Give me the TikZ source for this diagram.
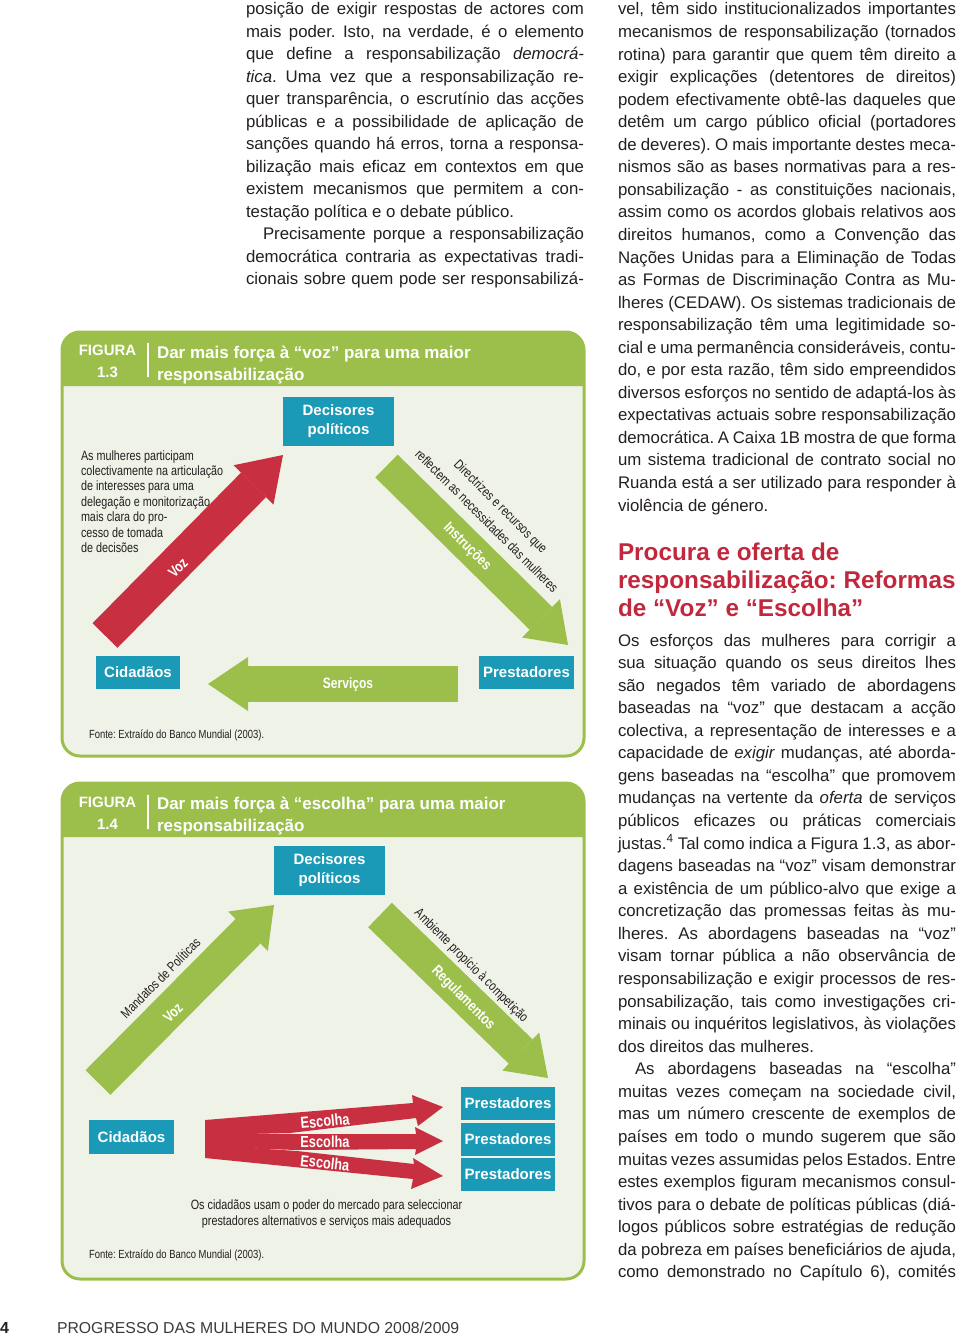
\documentclass[tikz,border=0pt]{standalone}
\usepackage{fontspec}
\setmainfont{Liberation Sans}
\newfontfamily\cond[FakeStretch=0.8]{Liberation Sans}
\usetikzlibrary{arrows.meta}
\definecolor{figgreen}{HTML}{9CBF4B}
\definecolor{figbg}{HTML}{EFF2E6}
\definecolor{tealc}{HTML}{1B9AB7}
\definecolor{arrred}{HTML}{C82F40}
\definecolor{headred}{HTML}{C2283D}
\definecolor{bodytxt}{HTML}{231F20}
\definecolor{foot}{HTML}{3A3A3A}
\frenchspacing
\newcommand\jl[1]{\noindent\makebox[\linewidth][s]{#1}\par}
\newcommand\lastl[1]{\noindent #1\par}
\tikzset{
  txt/.style={anchor=base west, inner sep=0pt, outer sep=0pt},
  bodytext/.style={txt, text=bodytxt},
  tealbox/.style={fill=tealc, text=white, inner sep=0pt, align=center,
    font=\fontsize{15}{19}\selectfont\bfseries},
  whitelab/.style={text=white, inner sep=0pt, font=\cond\fontsize{15}{18}\selectfont\bfseries},
  blacklab/.style={text=bodytxt, inner sep=0pt, font=\cond\fontsize{13.5}{15}\selectfont},
  figtitle/.style={txt, text=white, font=\fontsize{17}{22}\selectfont\bfseries},
  fignum/.style={anchor=base, inner sep=0pt, text=white, font=\fontsize{15}{22}\selectfont\bfseries},
  blockarr/.style n args={4}{draw=#1, line width=#2, -{Triangle[length=#3, width=#4, line width=0pt]}},
  redshape/.style={fill=arrred},
}
\begin{document}
\frenchspacing
\begin{tikzpicture}[x=1pt, y=-1pt]
\useasboundingbox (0,0) rectangle (960,1335);

% ---------------- column 2 text ----------------
\node[bodytext] (col2) at (246,15) {\begin{minipage}[t]{338pt}\fontsize{16.8}{22.5}\selectfont\frenchspacing
\jl{posição de exigir respostas de actores com}
\jl{mais poder. Isto, na verdade, é o elemento}
\jl{que define a responsabilização \textit{democrá-}}
\jl{\textit{tica}. Uma vez que a responsabilização re-}
\jl{quer transparência, o escrutínio das acções}
\jl{públicas e a possibilidade de aplicação de}
\jl{sanções quando há erros, torna a responsa-}
\jl{bilização mais eficaz em contextos em que}
\jl{existem mecanismos que permitem a con-}
\lastl{testação política e o debate público.}
\jl{\hspace*{17pt}Precisamente porque a responsabilização}
\jl{democrática contraria as expectativas tradi-}
\jl{cionais sobre quem pode ser responsabilizá-}
\end{minipage}};

% ---------------- column 3 text ----------------
\node[bodytext] (col3a) at (618,15) {\begin{minipage}[t]{338pt}\fontsize{16.8}{22.55}\selectfont\frenchspacing
\jl{vel, têm sido institucionalizados importantes}
\jl{mecanismos de responsabilização (tornados}
\jl{rotina) para garantir que quem têm direito a}
\jl{exigir explicações (detentores de direitos)}
\jl{podem efectivamente obtê-las daqueles que}
\jl{detêm um cargo público oficial (portadores}
\jl{de deveres). O mais importante destes meca-}
\jl{nismos são as bases normativas para a res-}
\jl{ponsabilização - as constituições nacionais,}
\jl{assim como os acordos globais relativos aos}
\jl{direitos humanos, como a Convenção das}
\jl{Nações Unidas para a Eliminação de Todas}
\jl{as Formas de Discriminação Contra as Mu-}
\jl{lheres (CEDAW). Os sistemas tradicionais de}
\jl{responsabilização têm uma legitimidade so-}
\jl{cial e uma permanência consideráveis, contu-}
\jl{do, e por esta razão, têm sido empreendidos}
\jl{diversos esforços no sentido de adaptá-los às}
\jl{expectativas actuais sobre responsabilização}
\jl{democrática. A Caixa 1B mostra de que forma}
\jl{um sistema tradicional de contrato social no}
\jl{Ruanda está a ser utilizado para responder à}
\lastl{violência de género.}
\end{minipage}};

\node[txt, text=headred] (head) at (618,560) {\begin{minipage}[t]{345pt}\fontsize{24.3}{28}\selectfont\bfseries
\lastl{Procura e oferta de}
\lastl{responsabilização: Reformas}
\lastl{de “Voz” e “Escolha”}
\end{minipage}};

\node[bodytext] (col3b) at (618,646) {\begin{minipage}[t]{338pt}\fontsize{16.8}{22.57}\selectfont\frenchspacing
\jl{Os esforços das mulheres para corrigir a}
\jl{sua situação quando os seus direitos lhes}
\jl{são negados têm variado de abordagens}
\jl{baseadas na “voz” que destacam a acção}
\jl{colectiva, a representação de interesses e a}
\jl{capacidade de \textit{exigir} mudanças, até aborda-}
\jl{gens baseadas na “escolha” que promovem}
\jl{mudanças na vertente da \textit{oferta} de serviços}
\jl{públicos eficazes ou práticas comerciais}
\jl{justas.\textsuperscript{4} Tal como indica a Figura 1.3, as abor-}
\jl{dagens baseadas na “voz” visam demonstrar}
\jl{a existência de um público-alvo que exige a}
\jl{concretização das promessas feitas às mu-}
\jl{lheres. As abordagens baseadas na “voz”}
\jl{visam tornar pública a não observância de}
\jl{responsabilização e exigir processos de res-}
\jl{ponsabilização, tais como investigações cri-}
\jl{minais ou inquéritos legislativos, às violações}
\lastl{dos direitos das mulheres.}
\jl{\hspace*{17pt}As abordagens baseadas na “escolha”}
\jl{muitas vezes começam na sociedade civil,}
\jl{mas um número crescente de exemplos de}
\jl{países em todo o mundo sugerem que são}
\jl{muitas vezes assumidas pelos Estados. Entre}
\jl{estes exemplos figuram mecanismos consul-}
\jl{tivos para o debate de políticas públicas (diá-}
\jl{logos públicos sobre estratégias de redução}
\jl{da pobreza em países beneficiários de ajuda,}
\jl{como demonstrado no Capítulo 6), comités}
\end{minipage}};

% ---------------- Figure 1.3 ----------------
\fill[figbg, rounded corners=18] (62,332) rectangle (584,756);
\fill[figgreen] (62,386) [rounded corners=18] -- (62,332) -- (584,332) [sharp corners] -- (584,386) -- cycle;
\draw[figgreen, line width=3, rounded corners=18] (62,332) rectangle (584,756);
\node[fignum] (f3a) at (107.5,355.5) {FIGURA};
\node[fignum] (f3b) at (107.5,377.5) {1.3};
\draw[white, line width=1.5] (148,343) -- (148,377);
\node[figtitle] (t3a) at (157,358) {Dar mais força à “voz” para uma maior};
\node[figtitle] (t3b) at (157,380) {responsabilização};

\node[tealbox, minimum width=111, minimum height=49] (dec3) at (338.5,421.5) {Decisores\\políticos};
\node[tealbox, minimum width=84, minimum height=33] (cid3) at (138,672.5) {Cidadãos};
\node[tealbox, minimum width=95, minimum height=33] (pre3) at (526.5,672.5) {Prestadores};

\coordinate (v3s) at (105,635.5);
\coordinate (v3e) at (283,455);
\coordinate (i3s) at (386.5,466);
\coordinate (i3e) at (568,645);
\coordinate (s3s) at (458,684);
\coordinate (s3e) at (208,684);
\draw[blockarr={arrred}{35}{42pt}{56pt}] (v3s) -- (v3e);
\draw[blockarr={figgreen}{32}{38pt}{54pt}] (i3s) -- (i3e);
\draw[blockarr={figgreen}{36}{40pt}{54pt}] (s3s) -- (s3e);

\node[whitelab, rotate=45] (voz3) at (178,568) {Voz};
\node[whitelab, rotate=-45] (ins3) at (467,547) {Instruções};
\node[whitelab] (ser3) at (348,685) {Serviços};
\node[blacklab, rotate=-45] (dir3a) at (500,507) {Directrizes e recursos que};
\node[blacklab, rotate=-45] (dir3b) at (487,521) {reflectem as necessidades das mulheres};

\node[txt, text=bodytxt] (par3) at (81,460) {\begin{minipage}[t]{200pt}\cond\fontsize{13.5}{15.4}\selectfont
\lastl{As mulheres participam}
\lastl{colectivamente na articulação}
\lastl{de interesses para uma}
\lastl{delegação e monitorização}
\lastl{mais clara do pro-}
\lastl{cesso de tomada}
\lastl{de decisões}
\end{minipage}};
\node[txt, text=bodytxt, font=\cond\fontsize{11.8}{14}\selectfont] (src3) at (89,738) {Fonte: Extraído do Banco Mundial (2003).};

% ---------------- Figure 1.4 ----------------
\fill[figbg, rounded corners=18] (62,783) rectangle (584,1279);
\fill[figgreen] (62,837) [rounded corners=18] -- (62,783) -- (584,783) [sharp corners] -- (584,837) -- cycle;
\draw[figgreen, line width=3, rounded corners=18] (62,783) rectangle (584,1279);
\node[fignum] (f4a) at (107.5,807.5) {FIGURA};
\node[fignum] (f4b) at (107.5,829.5) {1.4};
\draw[white, line width=1.5] (148,795) -- (148,829);
\node[figtitle] (t4a) at (157,809) {Dar mais força à “escolha” para uma maior};
\node[figtitle] (t4b) at (157,831) {responsabilização};

\node[tealbox, minimum width=111, minimum height=49] (dec4) at (329.5,870.5) {Decisores\\políticos};
\node[tealbox, minimum width=85, minimum height=34] (cid4) at (131.5,1137) {Cidadãos};
\node[tealbox, minimum width=94, minimum height=33] (pre4a) at (508,1103.5) {Prestadores};
\node[tealbox, minimum width=94, minimum height=33] (pre4b) at (508,1139) {Prestadores};
\node[tealbox, minimum width=94, minimum height=33] (pre4c) at (508,1174.5) {Prestadores};

\coordinate (v4s) at (98,1082.5);
\coordinate (v4e) at (274,905);
\coordinate (r4s) at (380,915);
\coordinate (r4e) at (548,1078);
\draw[blockarr={figgreen}{35}{37pt}{56pt}] (v4s) -- (v4e);
\draw[blockarr={figgreen}{34}{38pt}{53pt}] (r4s) -- (r4e);

% Escolha arrows (tapered shafts from a common tail)
\coordinate (e4ae) at (443,1107);
\coordinate (e4be) at (443,1141);
\coordinate (e4ce) at (443,1176);
\fill[redshape] (205,1120) -- (413,1103) -- (412,1095) -- (e4ae) -- (418,1126) -- (416,1118) -- (290,1133) -- (205,1134) -- cycle;
\fill[redshape] (205,1132) -- (290,1134) -- (416,1134) -- (415,1127) -- (e4be) -- (415,1155) -- (416,1149) -- (297,1150) -- (205,1147) -- cycle;
\fill[redshape] (205,1145) -- (297,1151) -- (414,1164) -- (413,1158) -- (e4ce) -- (411,1189) -- (413,1179) -- (205,1158) -- cycle;

\node[whitelab, rotate=45] (voz4) at (173,1013) {Voz};
\node[whitelab, rotate=-45] (reg4) at (463,998) {Regulamentos};
\node[blacklab, rotate=45] (man4) at (160.5,978) {Mandatos de Políticas};
\node[blacklab, rotate=-45] (amb4) at (471,966) {Ambiente propício à competição};
\node[whitelab, rotate=5.3, font=\cond\fontsize{16}{18}\selectfont\bfseries] (esc4a) at (325,1121) {Escolha};
\node[whitelab, font=\cond\fontsize{16}{18}\selectfont\bfseries] (esc4b) at (325,1142) {Escolha};
\node[whitelab, rotate=-6.2, font=\cond\fontsize{16}{18}\selectfont\bfseries] (esc4c) at (325,1163) {Escolha};

\node[blacklab, align=center, anchor=north, font=\cond\fontsize{13.5}{16}\selectfont] (cap4) at (326.5,1200) {Os cidadãos usam o poder do mercado para seleccionar\\prestadores alternativos e serviços mais adequados};
\node[txt, text=bodytxt, font=\cond\fontsize{11.8}{14}\selectfont] (src4) at (89,1258) {Fonte: Extraído do Banco Mundial (2003).};

% ---------------- footer ----------------
\node[txt, text=bodytxt, font=\fontsize{16}{18}\selectfont\bfseries] (pg) at (0,1333) {4};
\node[txt, text=foot, font=\fontsize{15.8}{18}\selectfont] (foottxt) at (57,1333) {PROGRESSO DAS MULHERES DO MUNDO 2008/2009};
\end{tikzpicture}
\end{document}
